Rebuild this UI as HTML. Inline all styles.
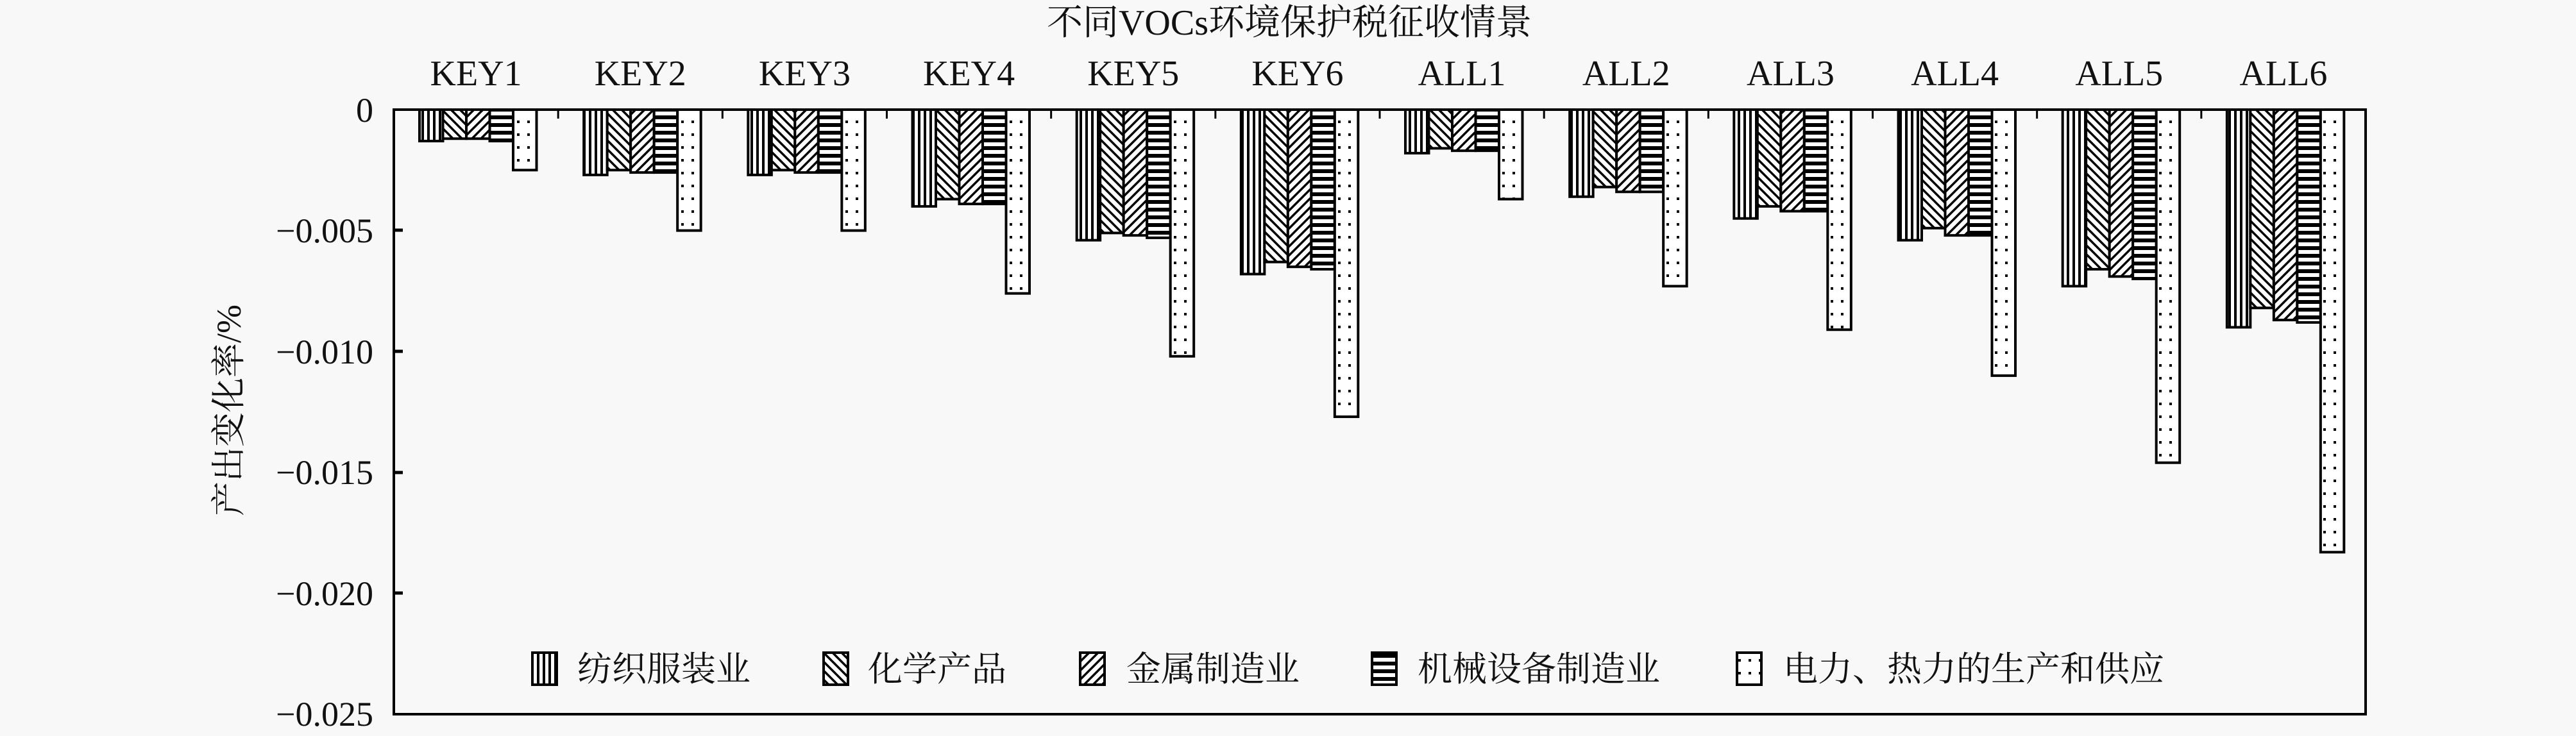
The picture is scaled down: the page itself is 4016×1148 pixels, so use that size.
<!DOCTYPE html>
<html><head><meta charset="utf-8"><style>
html,body{margin:0;padding:0;background:#f8f8f8;}
svg{display:block;}
text{font-family:"Liberation Serif","Noto Serif CJK SC",serif;fill:#111;}
.cj{font-family:"Liberation Serif","Noto Serif CJK SC","Noto Sans CJK SC",serif;}
</style></head><body>
<svg width="4016" height="1148" viewBox="0 0 4016 1148" xmlns="http://www.w3.org/2000/svg">
<defs>
<pattern id="p0" width="9" height="10" patternUnits="userSpaceOnUse"><rect width="9" height="10" fill="#fff"/><rect x="0" width="4" height="10" fill="#000"/></pattern>
<pattern id="p1" width="14" height="14" patternUnits="userSpaceOnUse"><rect width="14" height="14" fill="#fff"/><path d="M-4 -4 L18 18 M-4 10 L4 18 M10 -4 L18 4" stroke="#000" stroke-width="3.5"/></pattern>
<pattern id="p2" width="14" height="14" patternUnits="userSpaceOnUse"><rect width="14" height="14" fill="#fff"/><path d="M18 -4 L-4 18 M4 -4 L-4 4 M18 10 L10 18" stroke="#000" stroke-width="3.5"/></pattern>
<pattern id="p3" width="10" height="12" patternUnits="userSpaceOnUse"><rect width="10" height="12" fill="#fff"/><rect y="0" width="10" height="6" fill="#000"/></pattern>
<pattern id="p4" width="16" height="20" patternUnits="userSpaceOnUse"><rect width="16" height="20" fill="#fff"/><rect x="6" y="8" width="4" height="4" fill="#000"/></pattern>
</defs>
<rect width="4016" height="1148" fill="#f8f8f8"/>
<text x="2010" y="54" font-size="56" text-anchor="middle" class="cj">不同VOCs环境保护税征收情景</text>
<g id="bars"></g>
<rect x="614" y="171" width="3074" height="943" fill="none" stroke="#000" stroke-width="4"/>
<g font-size="54" text-anchor="end">
<text x="582" y="190">0</text>
<text x="582" y="378">−0.005</text>
<text x="582" y="567">−0.010</text>
<text x="582" y="755">−0.015</text>
<text x="582" y="944">−0.020</text>
<text x="582" y="1132">−0.025</text>
</g>
<g stroke="#000" stroke-width="5">
<line x1="614" y1="359" x2="628" y2="359"/><line x1="614" y1="548" x2="628" y2="548"/><line x1="614" y1="737" x2="628" y2="737"/><line x1="614" y1="925" x2="628" y2="925"/>
</g>
<text transform="translate(375,640) rotate(-90)" font-size="54" text-anchor="middle" class="cj">产出变化率/%</text>
<g font-size="54" class="cj">
<rect x="830" y="1018" width="38" height="50" fill="url(#p0)" stroke="#000" stroke-width="4"/><text x="900" y="1062">纺织服装业</text>
<rect x="1284" y="1018" width="38" height="50" fill="url(#p1)" stroke="#000" stroke-width="4"/><text x="1353" y="1062">化学产品</text>
<rect x="1684" y="1018" width="38" height="50" fill="url(#p2)" stroke="#000" stroke-width="4"/><text x="1756" y="1062">金属制造业</text>
<rect x="2139" y="1018" width="38" height="50" fill="url(#p3)" stroke="#000" stroke-width="4"/><text x="2210" y="1062">机械设备制造业</text>
<rect x="2708" y="1018" width="38" height="50" fill="url(#p4)" stroke="#000" stroke-width="4"/><text x="2780" y="1062">电力、热力的生产和供应</text>
</g>
<g id="lbl" font-size="56" text-anchor="middle"></g>
<script>
var names=["KEY1","KEY2","KEY3","KEY4","KEY5","KEY6","ALL1","ALL2","ALL3","ALL4","ALL5","ALL6"];
var v=[[.0013,.0012,.0012,.0013,.0025],[.0027,.0025,.0026,.0026,.005],[.0027,.0025,.0026,.0026,.005],[.004,.0037,.0039,.0039,.0076],[.0054,.0051,.0052,.0053,.0102],[.0068,.0063,.0065,.0066,.0127],[.0018,.0016,.0017,.0017,.0037],[.0036,.0032,.0034,.0034,.0073],[.0045,.004,.0042,.0042,.0091],[.0054,.0049,.0052,.0052,.011],[.0073,.0066,.0069,.007,.0146],[.009,.0082,.0087,.0088,.0183]];
var ns="http://www.w3.org/2000/svg",g=document.getElementById("bars"),l=document.getElementById("lbl");
var gw=3074/12;
for(var i=0;i<12;i++){
 var x0=614+i*gw+40;
 for(var j=0;j<5;j++){
  var r=document.createElementNS(ns,"rect");
  r.setAttribute("x",x0+j*36.5);r.setAttribute("y",171);
  r.setAttribute("width",36.5);r.setAttribute("height",v[i][j]*37720);
  r.setAttribute("fill","url(#p"+j+")");r.setAttribute("stroke","#000");r.setAttribute("stroke-width","4");
  g.appendChild(r);
 }
 if(i<11){var t=document.createElementNS(ns,"line");var tx=614+(i+1)*gw;t.setAttribute("x1",tx);t.setAttribute("x2",tx);t.setAttribute("y1",171);t.setAttribute("y2",185);t.setAttribute("stroke","#000");t.setAttribute("stroke-width","3");g.appendChild(t);}
 var tt=document.createElementNS(ns,"text");tt.setAttribute("x",614+i*gw+gw/2);tt.setAttribute("y",133);tt.textContent=names[i];l.appendChild(tt);
}
</script>
</svg>
</body></html>
